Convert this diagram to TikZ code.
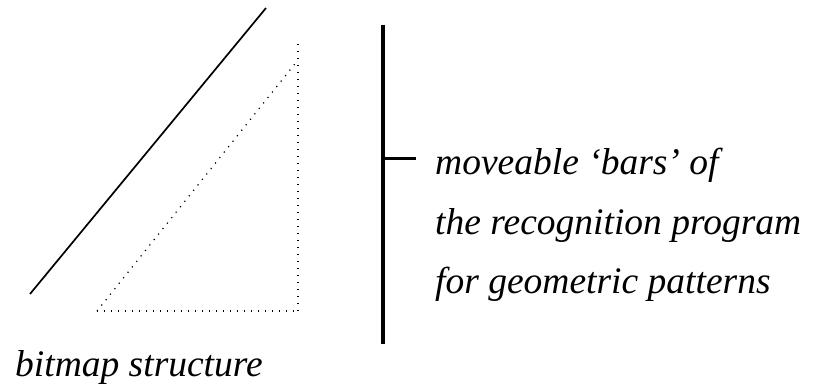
\documentclass[tikz,border=0pt]{standalone}
\usepackage{fontspec}
\setmainfont{Liberation Serif}
\begin{document}
\begin{tikzpicture}[x=1pt,y=-1pt,
  lbl/.style={font=\fontsize{37.5}{44}\selectfont\itshape, inner sep=0pt, anchor=base west},
  dots/.style={line width=1.2pt, dash pattern=on 1.2pt off 5.8pt},
  bar/.style={line width=4pt}]
\useasboundingbox (0,0) rectangle (814,385);
% solid diagonal
\coordinate (s1) at (30,294);
\coordinate (s2) at (266,8);
\draw[line width=1.7pt] (s1) -- (s2);
% dotted triangle
\coordinate (t1) at (97,311);
\coordinate (t2) at (298,311);
\coordinate (t3) at (298,41);
\coordinate (t4) at (298,60);
\draw[dots] (t1) -- (t2);
\draw[dots] (t2) -- (t3);
\draw[dots] (t1) -- (t4);
% bar
\coordinate (b1) at (383,25);
\coordinate (b2) at (383,344);
\coordinate (b3) at (383,159);
\coordinate (b4) at (416,159);
\draw[bar] (b1) -- (b2);
\draw[line width=3pt] (b3) -- (b4);
% texts
\node[lbl] (l1) at (435,175) {moveable ‘bars’ of};
\node[lbl] (l2) at (435,234) {the recognition program};
\node[lbl] (l3) at (435,293) {for geometric patterns};
\node[lbl] (bm) at (15,376) {bitmap structure};
\end{tikzpicture}
\end{document}
